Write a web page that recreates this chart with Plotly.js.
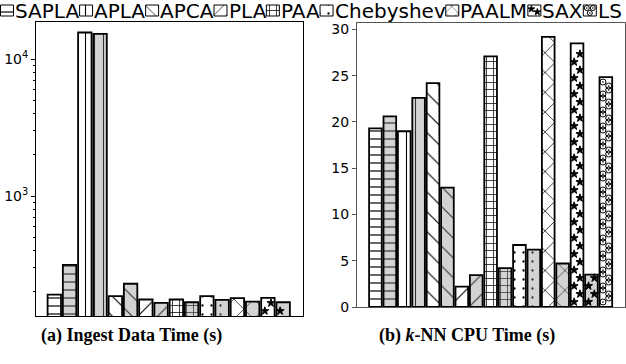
<!DOCTYPE html>
<html><head><meta charset="utf-8">
<script src="https://cdn.plot.ly/plotly-3.0.1.min.js"></script>
<style>html,body{margin:0;padding:0;background:#fff}#chart{width:626px;height:364px}</style>
</head><body><div id="chart"></div>
<script>
// ---------------- data ----------------
const methods = ['SAPLA','APLA','APCA','PLA','PAA','Chebyshev','PAALM','SAX','LS'];
const ingestWhite = [190, 15700, 185, 175, 175, 185, 179, 180, null];
const ingestGray  = [313, 15350, 228, 165, 167, 174, 169, 167, null];
const knnWhite = [19.3, 19.0, 24.2, 2.2, 27.1, 6.7, 29.2, 28.5, 24.85];
const knnGray  = [20.6, 22.6, 12.9, 3.45, 4.2, 6.2, 4.7, 3.5, null];
const logTickVals = [1000, 10000];
const logTickText = ['10<sup>3</sup>', '10<sup>4</sup>'];
const linTickVals = [0, 5, 10, 15, 20, 25, 30];
const captionA = '(a) Ingest Data Time (s)';
const captionB = '(b) <i>k</i>-NN CPU Time (s)';

// ---------------- styles ----------------
const hatch = {
  SAPLA:{shape:'-',size:8,sol:0.15}, APLA:{shape:'|',size:9,sol:0.12},
  APCA:{shape:'\\',size:14,sol:0.08}, PLA:{shape:'/',size:14,sol:0.08},
  PAA:{shape:'+',size:7,sol:0.2}, Chebyshev:{shape:'.',size:9,sol:0.05},
  PAALM:{shape:'x',size:14,sol:0.1}, SAX:{shape:'',size:8,sol:0.1}, LS:{shape:'',size:8,sol:0.1}
};
const glyph = {SAX:{symbol:'star', size:6, step:8, pair:false}, LS:{symbol:'circle-open-dot', size:6, step:8, pair:true}};
const WHITE = '#ffffff', GRAY = '#d3d3d3';
const W = 626, H = 364;
const LB = {x0:36, x1:303, y0:22, y1:316};
const RB = {x0:357, x1:625, y0:23, y1:307};
const leftYRange = [3 - (316-196)/136.7, 4 + (59.3-22)/136.7];
const rightYRange = [0, 30.7];
const leftXRange = [-1.2, 16.3];
const rightXRange = [-1.28, 17.33];
const BARW = 0.88;

function seriesFor(whiteArr, grayArr){
  const out = []; let k = 0;
  methods.forEach((m, i) => {
    const pts = [];
    if (whiteArr[i] != null) pts.push({x:k++, y:whiteArr[i], c:WHITE});
    if (grayArr[i] != null) pts.push({x:k++, y:grayArr[i], c:GRAY});
    out.push({m, pts});
  });
  return out;
}

function barTrace(m, p, xa, ya){
  const h = hatch[m];
  const fg = p.c === WHITE ? '#000' : '#333';
  const mk = {color:p.c, line:{color:'#000', width:1.8}};
  if (h.shape) mk.pattern = {shape:h.shape, size:h.size, solidity:h.sol, fgcolor:fg, bgcolor:p.c, fillmode:'overlay', fgopacity:1};
  return {type:'bar', x:[p.x], y:[p.y], xaxis:xa, yaxis:ya, width:BARW, showlegend:false, hoverinfo:'skip', marker:mk};
}

// glyph overlay (stars / rings) computed from bar values through axis transforms
function glyphTrace(m, pts, xa, ya, toPx, fromPx){
  const g = glyph[m]; const xs = [], ys = [];
  pts.forEach(p => {
    const top = toPx(p.y);
    let r = 0;
    for (let px = 5; px <= top - 3; px += g.step, r++){
      const off = (r % 2 === 0) ? -0.2 : 0.2;
      xs.push(p.x + off); ys.push(fromPx(px));
      if (g.pair && px + g.step/2 <= top - 3) { xs.push(p.x - off); ys.push(fromPx(px + g.step/2)); }
    }
  });
  return {type:'scatter', mode:'markers', x:xs, y:ys, xaxis:xa, yaxis:ya, showlegend:false, hoverinfo:'skip', cliponaxis:true,
    marker:{symbol:g.symbol, size:g.size, color:'#000', line:{color:'#000', width:1}}};
}

const traces = [];
const leftPxPerDec = (LB.y1 - LB.y0) / (leftYRange[1] - leftYRange[0]);
const rightPxPerUnit = (RB.y1 - RB.y0) / (rightYRange[1] - rightYRange[0]);
const leftTo = v => (Math.log10(v) - leftYRange[0]) * leftPxPerDec;
const leftFrom = px => Math.pow(10, leftYRange[0] + px / leftPxPerDec);
const rightTo = v => v * rightPxPerUnit;
const rightFrom = px => px / rightPxPerUnit;

const leftSeries = seriesFor(ingestWhite, ingestGray);
const rightSeries = seriesFor(knnWhite, knnGray);
leftSeries.forEach(s => s.pts.forEach(p => traces.push(barTrace(s.m, p, 'x', 'y'))));
rightSeries.forEach(s => s.pts.forEach(p => traces.push(barTrace(s.m, p, 'x2', 'y2'))));
leftSeries.forEach(s => { if (s.pts.length && glyph[s.m]) traces.push(glyphTrace(s.m, s.pts, 'x', 'y', leftTo, leftFrom)); });
rightSeries.forEach(s => { if (s.pts.length && glyph[s.m]) traces.push(glyphTrace(s.m, s.pts, 'x2', 'y2', rightTo, rightFrom)); });

// ---------------- custom legend strip ----------------
const LEGFONT = 20;
const ctx = document.createElement('canvas').getContext('2d');
ctx.font = LEGFONT + 'px "DejaVu Sans"';
const legAnn = [];
const legX = [];
let cx = 0;
methods.forEach(m => {
  legX.push(cx + 7);
  legAnn.push({text:m, x:(cx + 14)/W, xref:'paper', xanchor:'left', y:1, yref:'paper', yanchor:'top', yshift:2,
    showarrow:false, borderpad:0, font:{family:'DejaVu Sans', size:LEGFONT, color:'#000'}});
  cx += 14 + ctx.measureText(m).width + 1;
});
methods.forEach((m, i) => {
  const h = hatch[m];
  const mk = {color:WHITE, line:{color:'#000', width:1}};
  if (h.shape) mk.pattern = {shape:h.shape, size:Math.min(h.size, 9), solidity:h.sol, fgcolor:'#000', bgcolor:WHITE, fillmode:'overlay', fgopacity:1};
  traces.push({type:'bar', x:[legX[i]], y:[11], base:[5], width:13, xaxis:'x3', yaxis:'y3', showlegend:false, hoverinfo:'skip', marker:mk});
  if (glyph[m]) {
    const g = glyph[m];
    const gx = m === 'LS' ? [legX[i]-3, legX[i]+3, legX[i]] : [legX[i]-3, legX[i]+3];
    const gy = m === 'LS' ? [8, 8, 13] : [9, 12];
    traces.push({type:'scatter', mode:'markers', x:gx, y:gy, xaxis:'x3', yaxis:'y3', showlegend:false, hoverinfo:'skip',
      marker:{symbol:g.symbol, size:5, color:'#000', line:{color:'#000', width:1}}});
  }
});

const axisBase = {showgrid:false, zeroline:false, showline:true, mirror:true, linewidth:1, fixedrange:true};
const tickFont = {family:'DejaVu Sans', size:14, color:'#000'};

const minorLog = [];
[100, 1000, 10000].forEach(d => { for (let k = 2; k <= 9; k++) minorLog.push(k * d); });

const layout = {
  width:W, height:H, margin:{l:0, r:0, t:0, b:0}, paper_bgcolor:'#fff', plot_bgcolor:'#fff',
  showlegend:false, bargap:0, barmode:'overlay',
  xaxis:Object.assign({}, axisBase, {domain:[LB.x0/W, LB.x1/W], range:leftXRange, showticklabels:false, ticks:'', linecolor:'#000', anchor:'y'}),
  yaxis:Object.assign({}, axisBase, {domain:[(H-LB.y1)/H, (H-LB.y0)/H], type:'log', range:leftYRange, tickmode:'array',
    tickvals:logTickVals, ticktext:logTickText, ticks:'outside', ticklen:4, tickwidth:1, tickcolor:'#000', linecolor:'#000',
    tickfont:tickFont, anchor:'x',
    minor:{tickmode:'array', tickvals:minorLog, ticks:'outside', ticklen:2, tickwidth:1, tickcolor:'#000', showgrid:false}}),
  xaxis2:Object.assign({}, axisBase, {domain:[RB.x0/W, RB.x1/W], range:rightXRange, showticklabels:false, ticks:'', linecolor:'#555', anchor:'y2'}),
  yaxis2:Object.assign({}, axisBase, {domain:[(H-RB.y1)/H, (H-RB.y0)/H], range:rightYRange, tickmode:'array', tickvals:linTickVals,
    ticks:'outside', ticklen:4, tickwidth:1, tickcolor:'#555', linecolor:'#555', tickfont:tickFont, anchor:'x2'}),
  xaxis3:{domain:[0,1], range:[0, W], visible:false, fixedrange:true, anchor:'y3'},
  yaxis3:{domain:[1-22/H, 1], range:[22, 0], visible:false, fixedrange:true, anchor:'x3'},
  annotations: legAnn.concat([
    {text:'<b>'+captionA+'</b>', x:131/W, y:1-335/H, xref:'paper', yref:'paper', xanchor:'center', yanchor:'middle', showarrow:false,
      font:{family:'Liberation Serif', size:18, color:'#000'}},
    {text:'<b>'+captionB+'</b>', x:467/W, y:1-335/H, xref:'paper', yref:'paper', xanchor:'center', yanchor:'middle', showarrow:false,
      font:{family:'Liberation Serif', size:18, color:'#000'}}
  ])
};

Plotly.newPlot('chart', traces, layout, {staticPlot:true, displayModeBar:false});
</script>
</body></html>
